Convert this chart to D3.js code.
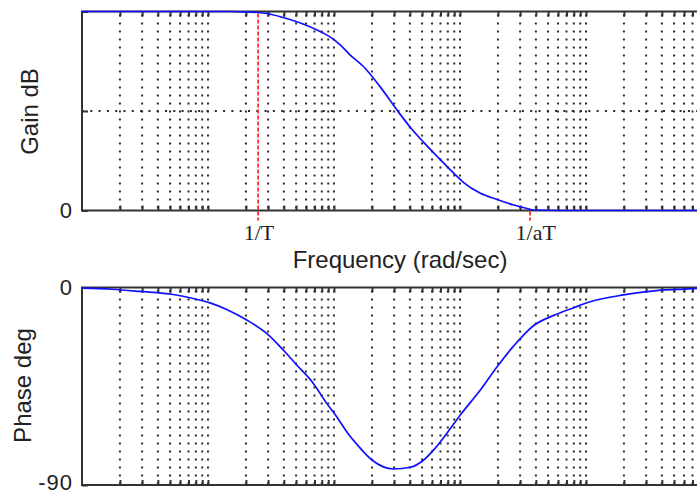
<!DOCTYPE html>
<html><head><meta charset="utf-8">
<script src="https://cdn.jsdelivr.net/npm/d3@7"></script>
<style>body{margin:0;background:#fff}svg{display:block}</style>
</head><body><svg id="c" width="697" height="494"></svg>
<script>
// ---- data ----
const gainFreq = [0.01, 0.05, 0.147, 0.2, 0.25, 0.294, 0.394, 0.473, 0.568, 0.733, 0.929, 1.12, 1.34, 1.72, 2.32, 3.16, 4.01, 5.15, 6.57, 8.91, 10.7, 14.4, 19.7, 26.7, 34.0, 38.5, 60, 200, 1000];
const gainDb   = [40, 40, 40, 39.9, 39.8, 39.6, 38.8, 38.2, 37.5, 36.3, 34.9, 33.3, 31.3, 28.9, 24.9, 20.2, 16.8, 13.7, 10.9, 7.5, 5.6, 3.5, 2.2, 1.1, 0.4, 0.1, 0, 0, 0];
const phaseFreq = [0.01, 0.0172, 0.0288, 0.053, 0.0764, 0.1037, 0.1406, 0.203, 0.292, 0.396, 0.506, 0.686, 0.875, 1.05, 1.29, 1.52, 2.0, 2.98, 4.03, 5.15, 6.18, 7.88, 10.05, 14.5, 19.7, 26.7, 38.5, 55.5, 79.8, 108, 199, 305, 414, 596, 760, 1000];
const phaseDeg  = [-0.3, -0.8, -1.8, -3.2, -5.0, -7.0, -10.0, -14.8, -20.9, -28.5, -35.3, -43.7, -52.8, -58.9, -66.5, -71.5, -78.6, -82.7, -81.9, -78.6, -74.0, -66.4, -58.1, -46.7, -36.1, -26.6, -17.3, -12.7, -9.2, -6.5, -3.4, -1.9, -1.1, -0.7, -0.4, -0.3];
const markerFreqs = [0.25, 36];
const markerLabels = ["1/T", "1/aT"];
const markerGain = [39.8, 0];
const gainTicks = [0, 20, 40];
const gainTickLabels = ["0", "", ""];
const phaseTicks = [-90, 0];
const phaseTickLabels = ["-90", "0"];
const xLabel = "Frequency (rad/sec)";
const gainLabel = "Gain dB";
const phaseLabel = "Phase deg";

// ---- scales ----
const svg = d3.select("#c");
const x = d3.scaleLog().domain([0.01, 1000]).range([82, 712]);
const yG = d3.scaleLinear().domain([0, 40]).range([210.5, 11.5]);
const yP = d3.scaleLinear().domain([-90, 0]).range([485, 287.5]);
const gridFreqs = x.ticks().filter(f => f > 0.01 * 1.001 && f < 1000 * 0.999);

const AX = "#333", GRID = "#2a2a2a", SANS = "'Liberation Sans', Arial, sans-serif";

function panel(y, yTicks, yLabels, hGrid) {
  const [y0, y1] = y.range(); // bottom, top
  const g = svg.append("g");
  g.selectAll(".vg").data(gridFreqs).join("line")
    .attr("x1", d => x(d)).attr("x2", d => x(d))
    .attr("y1", y1 + 3).attr("y2", y0)
    .attr("stroke", GRID).attr("stroke-width", 2).attr("stroke-dasharray", "2,6");
  g.selectAll(".hg").data(hGrid).join("line")
    .attr("x1", x.range()[0]).attr("x2", x.range()[1])
    .attr("y1", d => y(d)).attr("y2", d => y(d))
    .attr("stroke", GRID).attr("stroke-width", 2).attr("stroke-dasharray", "2,6.3");
  const bAx = g.append("g").attr("transform", `translate(0,${y0})`)
    .call(d3.axisBottom(x).tickValues(gridFreqs).tickSizeInner(-5).tickSizeOuter(0).tickFormat(""));
  const tAx = g.append("g").attr("transform", `translate(0,${y1})`)
    .call(d3.axisTop(x).tickValues(gridFreqs).tickSizeInner(-5).tickSizeOuter(0).tickFormat(""));
  [bAx, tAx].forEach(a => { a.select(".domain").remove(); a.selectAll("line").attr("stroke", AX).attr("stroke-width", 2); });
  const lAx = g.append("g").attr("transform", `translate(${x.range()[0]},0)`)
    .call(d3.axisLeft(y).tickValues(yTicks).tickSizeInner(-6).tickSizeOuter(0).tickPadding(9)
      .tickFormat((d, i) => yLabels[i]));
  lAx.select(".domain").remove();
  lAx.selectAll("line").attr("stroke", AX).attr("stroke-width", 2);
  lAx.selectAll("text").attr("font-family", SANS).attr("font-size", 22).attr("fill", "#222")
    .attr("letter-spacing", 1);
  g.append("path")
    .attr("d", `M${x.range()[1]},${y1}H${x.range()[0]}V${y0}H${x.range()[1]}`)
    .attr("fill", "none").attr("stroke", AX).attr("stroke-width", 2);
  return lAx;
}

panel(yG, gainTicks, gainTickLabels, [20]);
const pAx = panel(yP, phaseTicks, phaseTickLabels, []);
// keep the bottom label inside the picture
pAx.selectAll("text").filter(d => d === -90).attr("dy", "0.22em");

// red marker lines
svg.selectAll(".mk").data(markerFreqs).join("line")
  .attr("x1", d => x(d)).attr("x2", d => x(d))
  .attr("y1", (d, i) => yG(markerGain[i]) + 1).attr("y2", yG(0) + 10)
  .attr("stroke", "#ff2a2a").attr("stroke-width", 1.8).attr("stroke-dasharray", "4,2");

// marker labels
svg.append("g").attr("transform", `translate(0,${yG(0)})`)
  .call(d3.axisBottom(x).tickValues(markerFreqs).tickSize(0).tickFormat((d, i) => markerLabels[i]))
  .call(a => a.select(".domain").remove())
  .selectAll("text")
  .attr("font-family", "'Liberation Serif', 'Times New Roman', serif").attr("font-size", 22)
  .attr("fill", "#222").attr("text-anchor", "start").attr("dx", -15).attr("dy", 0).attr("y", 29.5);

// curves
const gainLine = d3.line().x(d => x(d[0])).y(d => yG(d[1])).curve(d3.curveMonotoneX);
const phaseLine = d3.line().x(d => x(d[0])).y(d => yP(d[1])).curve(d3.curveMonotoneX);
svg.append("path").datum(gainFreq.map((f, i) => [f, gainDb[i]]))
  .attr("d", gainLine).attr("fill", "none").attr("stroke", "#1010ff").attr("stroke-width", 1.7);
svg.append("path").datum(phaseFreq.map((f, i) => [f, phaseDeg[i]]))
  .attr("d", phaseLine).attr("fill", "none").attr("stroke", "#1010ff").attr("stroke-width", 1.7);

// axis titles
svg.append("text").attr("x", 400).attr("y", 268).attr("text-anchor", "middle")
  .attr("font-family", SANS).attr("font-size", 24).attr("fill", "#222").text(xLabel);
svg.append("text").attr("transform", "translate(38,111.5) rotate(-90)").attr("text-anchor", "middle")
  .attr("font-family", SANS).attr("font-size", 24).attr("fill", "#222").text(gainLabel);
svg.append("text").attr("transform", "translate(31,385.5) rotate(-90)").attr("text-anchor", "middle")
  .attr("font-family", SANS).attr("font-size", 24).attr("fill", "#222").text(phaseLabel);
</script></body></html>
